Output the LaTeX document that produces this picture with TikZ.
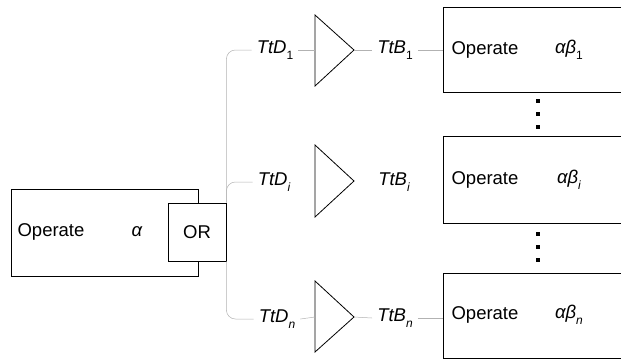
\documentclass[tikz,border=0pt]{standalone}
\usepackage{fontspec}
\setmainfont{Liberation Sans}
\newcommand{\lowidx}[1]{\raisebox{-0.32em}{\fontsize{12}{12}\selectfont #1}}
\begin{document}
\begin{tikzpicture}[x=1pt,y=-1pt,
  box/.style={draw, line width=0.8pt, inner sep=0pt},
  wire/.style={draw=black!30, line width=0.5pt},
  lbl/.style={inner xsep=5pt, inner ysep=1pt},
  txt/.style={inner sep=1pt},
  tri/.style={draw, line width=0.8pt, line join=miter},
  dotmark/.style={fill=black, minimum size=4pt, inner sep=0pt}]
\useasboundingbox (0,0) rectangle (621,360);
\clip (0,0) rectangle (621,360);
\fontsize{18.5}{22}\selectfont
% left operate box with OR
\node[box, minimum width=187pt, minimum height=87pt] (main) at (104.5,232.5) {};
\node[txt] (optext) at (51,232) {Operate};
\node[txt] (alpha) at (137,232) {\itshape α};
\node[box, fill=white, minimum size=58pt] (or) at (197,232) {OR};
% right boxes
\node[box, minimum width=190pt, minimum height=85pt, anchor=north west] (b1) at (443,7) {};
\node[txt] (b1op) at (485,50) {Operate};
\node[txt] (b1ab) at (569,50) {\itshape αβ\lowidx{\upshape 1}};
\node[box, minimum width=190pt, minimum height=87pt, anchor=north west] (bi) at (443,136) {};
\node[txt] (biop) at (485,180) {Operate};
\node[txt] (biab) at (569,180) {\itshape αβ\lowidx{i}};
\node[box, minimum width=190pt, minimum height=85pt, anchor=north west] (bn) at (443,273) {};
\node[txt] (bnop) at (485,315) {Operate};
\node[txt] (bnab) at (569,315) {\itshape αβ\lowidx{n}};
% dots
\node[dotmark] (d11) at (538,101) {};
\node[dotmark] (d12) at (538,114) {};
\node[dotmark] (d13) at (538,127) {};
\node[dotmark] (d21) at (538,234) {};
\node[dotmark] (d22) at (538,247) {};
\node[dotmark] (d23) at (538,260) {};
% triangles
\draw[tri] (315,15) coordinate (t1a) -- (354,50) coordinate (t1tip) -- (315,86) coordinate (t1b) -- cycle;
\coordinate (t1in) at (315,50);
\draw[tri] (315,145) coordinate (tia) -- (354,181) coordinate (titip) -- (315,217) coordinate (tib) -- cycle;
\coordinate (tiin) at (315,181);
\draw[tri] (315,281) coordinate (tna) -- (354,317) coordinate (tntip) -- (315,352) coordinate (tnb) -- cycle;
\coordinate (tnin) at (315,317);
% labels
\node[lbl] (dd1) at (275,50) {\itshape TtD\lowidx{\upshape 1}};
\node[lbl] (ddi) at (274,182) {\itshape TtD\lowidx{i}};
\node[lbl] (ddn) at (277,319) {\itshape TtD\lowidx{n}};
\node[lbl] (bb1) at (395,50) {\itshape TtB\lowidx{\upshape 1}};
\node[lbl] (bbi) at (394,182) {\itshape TtB\lowidx{i}};
\node[lbl] (bbn) at (395,318) {\itshape TtB\lowidx{n}};
% wires
\draw[wire, rounded corners=9pt] (or.north east) -- (or.north east |- dd1) -- (dd1.west);
\draw[wire, rounded corners=9pt] (or.north east) -- (or.north east |- ddi) -- (ddi.west);
\draw[wire, rounded corners=9pt] (or.south east) -- (or.south east |- ddn) -- (ddn.west);
\draw[wire] (dd1.east) -- (t1in);
\draw[wire] (t1tip) -- (bb1.west);
\draw[wire] (bb1.east) -- (bb1.east -| b1.west);
\draw[wire] (ddn.east) -- (tnin);
\draw[wire] (tntip) -- (bbn.west);
\draw[wire] (bbn.east) -- (bbn.east -| bn.west);
\end{tikzpicture}
\end{document}
